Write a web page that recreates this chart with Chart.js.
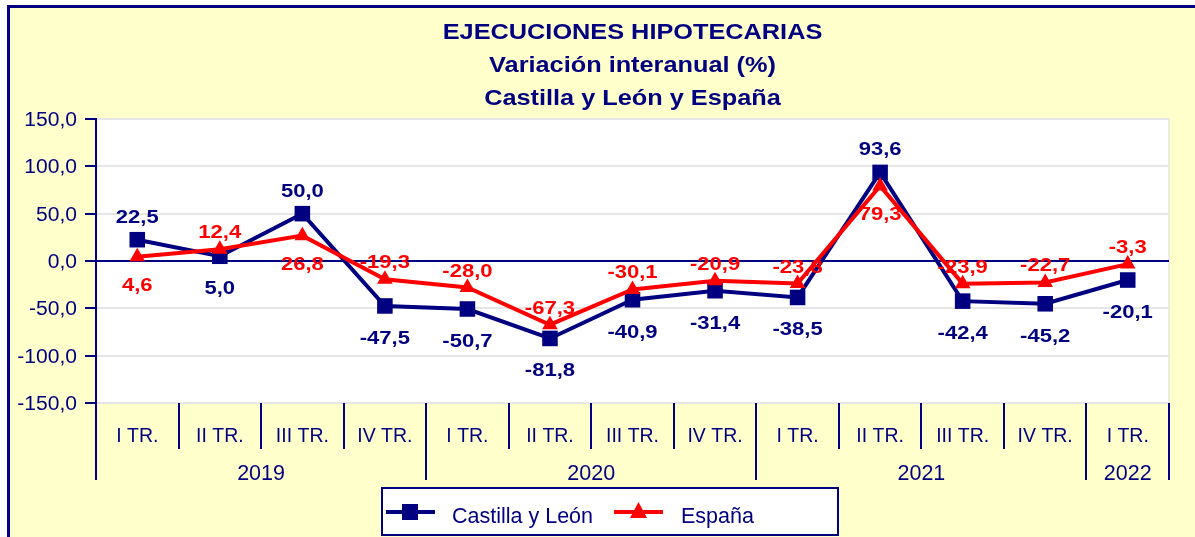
<!DOCTYPE html>
<html>
<head>
<meta charset="utf-8">
<script src="https://cdn.jsdelivr.net/npm/chart.js@4/dist/chart.umd.min.js"></script>
<style>
  html, body { margin: 0; padding: 0; background: #fff; }
  canvas { display: block; }
</style>
</head>
<body>
<canvas id="line-chart" width="1195" height="537"></canvas>
<script>
// data
var quarters = ['I TR.', 'II TR.', 'III TR.', 'IV TR.', 'I TR.', 'II TR.', 'III TR.', 'IV TR.', 'I TR.', 'II TR.', 'III TR.', 'IV TR.', 'I TR.'];
var years = ['2019', '2019', '2019', '2019', '2020', '2020', '2020', '2020', '2021', '2021', '2021', '2021', '2022'];
var castillaLeon = [22.5, 5.0, 50.0, -47.5, -50.7, -81.8, -40.9, -31.4, -38.5, 93.6, -42.4, -45.2, -20.1];
var espana = [4.6, 12.4, 26.8, -19.3, -28.0, -67.3, -30.1, -20.9, -23.8, 79.3, -23.9, -22.7, -3.3];
var titleLines = ['EJECUCIONES HIPOTECARIAS', 'Variación interanual (%)', 'Castilla y León y España'];
var seriesNames = ['Castilla y León', 'España'];

var NAVY = '#000080';
var RED = '#ff0000';
var YELLOW = '#ffffcc';
var FONT = '"Liberation Sans", Arial, sans-serif';

function fmt(v) {
  return v.toFixed(1).replace('.', ',');
}

// text with a horizontal stretch, baseline at y
function txt(ctx, s, x, y, size, bold, color, align, sx) {
  ctx.save();
  ctx.font = (bold ? 'bold ' : '') + size + 'px ' + FONT;
  ctx.fillStyle = color;
  ctx.textAlign = align;
  ctx.textBaseline = 'alphabetic';
  ctx.translate(x, y);
  ctx.scale(sx, 1);
  ctx.fillText(s, 0, 0);
  ctx.restore();
}

var framePlugin = {
  id: 'frame',
  beforeDraw: function(chart) {
    var ctx = chart.ctx, a = chart.chartArea;
    ctx.save();
    ctx.fillStyle = '#fff';
    ctx.fillRect(0, 0, chart.width, chart.height);
    ctx.fillStyle = YELLOW;
    ctx.fillRect(7, 5, chart.width, chart.height);
    ctx.strokeStyle = NAVY;
    ctx.lineWidth = 3;
    ctx.beginPath();
    ctx.moveTo(8.5, chart.height + 5);
    ctx.lineTo(8.5, 6.5);
    ctx.lineTo(chart.width + 5, 6.5);
    ctx.stroke();
    ctx.fillStyle = '#fff';
    ctx.fillRect(a.left, a.top, a.right - a.left, a.bottom - a.top);
    ctx.strokeStyle = '#d8d8d8';
    ctx.lineWidth = 1;
    ctx.strokeRect(a.left, a.top, a.right - a.left, a.bottom - a.top);
    ctx.restore();
  },
  afterDraw: function(chart) {
    var ctx = chart.ctx, a = chart.chartArea;
    var xs = chart.scales.x, ys = chart.scales.y;
    var cx = (a.left + a.right) / 2;

    // title
    var tY = [39, 72, 105];
    titleLines.forEach(function(t, i) {
      txt(ctx, t, cx, tY[i], 22, true, NAVY, 'center', 1.15);
    });

    // y tick labels
    ys.ticks.forEach(function(t) {
      var y = ys.getPixelForValue(t.value);
      txt(ctx, fmt(t.value), 77, y + 7, 19.5, false, NAVY, 'right', 1.08);
    });

    // x axis: quarter and year labels with separators
    ctx.save();
    ctx.strokeStyle = NAVY;
    ctx.lineWidth = 2;
    for (var i = 0; i <= quarters.length; i++) {
      var bx = Math.round(xs.getPixelForValue(i - 0.5));
      var yearEdge = i === 0 || i === quarters.length || years[i] !== years[i - 1];
      ctx.beginPath();
      ctx.moveTo(bx, a.bottom);
      ctx.lineTo(bx, yearEdge ? a.bottom + 77 : a.bottom + 46);
      ctx.stroke();
    }
    ctx.restore();
    quarters.forEach(function(q, i) {
      txt(ctx, q, xs.getPixelForValue(i), a.bottom + 39, 20.5, false, NAVY, 'center', 0.95);
    });
    var start = 0;
    for (var j = 1; j <= years.length; j++) {
      if (j === years.length || years[j] !== years[start]) {
        var mid = (xs.getPixelForValue(start) + xs.getPixelForValue(j - 1)) / 2;
        txt(ctx, years[start], mid, a.bottom + 77, 21.5, false, NAVY, 'center', 1.0);
        start = j;
      }
    }

    // data labels: the higher series above its point, the lower below
    var metaC = chart.getDatasetMeta(0), metaE = chart.getDatasetMeta(1);
    castillaLeon.forEach(function(v, i) {
      var p = metaC.data[i];
      var up = v > espana[i];
      txt(ctx, fmt(v), p.x, p.y + (up ? -24 : 31) + 7, 19, true, NAVY, 'center', 1.16);
    });
    espana.forEach(function(v, i) {
      var p = metaE.data[i];
      var up = v >= castillaLeon[i];
      txt(ctx, fmt(v), p.x, p.y + (up ? -18 : 27) + 7, 19, true, RED, 'center', 1.16);
    });

    // legend
    ctx.save();
    ctx.fillStyle = '#fff';
    ctx.fillRect(382, 488, 456, 47);
    ctx.strokeStyle = NAVY;
    ctx.lineWidth = 2;
    ctx.strokeRect(382, 488, 456, 47);
    ctx.lineWidth = 4;
    ctx.beginPath();
    ctx.moveTo(386, 512); ctx.lineTo(435, 512);
    ctx.stroke();
    ctx.fillStyle = NAVY;
    ctx.fillRect(402, 504, 16, 16);
    ctx.strokeStyle = RED;
    ctx.beginPath();
    ctx.moveTo(614, 512); ctx.lineTo(663, 512);
    ctx.stroke();
    ctx.fillStyle = RED;
    ctx.beginPath();
    ctx.moveTo(638.5, 502); ctx.lineTo(647, 518); ctx.lineTo(630, 518);
    ctx.closePath();
    ctx.fill();
    ctx.restore();
    txt(ctx, seriesNames[0], 452, 523, 21.5, false, NAVY, 'left', 1.0);
    txt(ctx, seriesNames[1], 681, 523, 21.5, false, NAVY, 'left', 1.0);
  }
};

new Chart(document.getElementById('line-chart'), {
  type: 'line',
  data: {
    labels: quarters,
    datasets: [{
      label: seriesNames[0],
      data: castillaLeon,
      borderColor: NAVY,
      backgroundColor: NAVY,
      borderWidth: 4,
      pointStyle: 'rect',
      pointRadius: 11,
      pointBorderWidth: 0,
      fill: false,
      tension: 0,
      order: 2
    }, {
      label: seriesNames[1],
      data: espana,
      borderColor: RED,
      backgroundColor: RED,
      borderWidth: 4,
      pointStyle: 'triangle',
      pointRadius: 9,
      pointBorderWidth: 0,
      fill: false,
      tension: 0,
      order: 1
    }]
  },
  options: {
    responsive: false,
    animation: false,
    devicePixelRatio: 1,
    events: [],
    layout: {
      padding: { left: 85, right: 26, top: 119, bottom: 134 }
    },
    plugins: {
      legend: { display: false },
      title: { display: false },
      tooltip: { enabled: false }
    },
    scales: {
      x: {
        display: false,
        offset: true
      },
      y: {
        min: -150,
        max: 150,
        ticks: { stepSize: 50, display: false },
        border: { color: NAVY, width: 2 },
        grid: {
          drawTicks: true,
          tickLength: 11,
          tickColor: NAVY,
          tickWidth: 2,
          lineWidth: 2,
          color: function(c) {
            return c.tick && c.tick.value === 0 ? NAVY : '#e6e6e6';
          }
        },
        afterFit: function(scale) {
          scale.width = 11;
        }
      }
    }
  },
  plugins: [framePlugin]
});
</script>
</body>
</html>
